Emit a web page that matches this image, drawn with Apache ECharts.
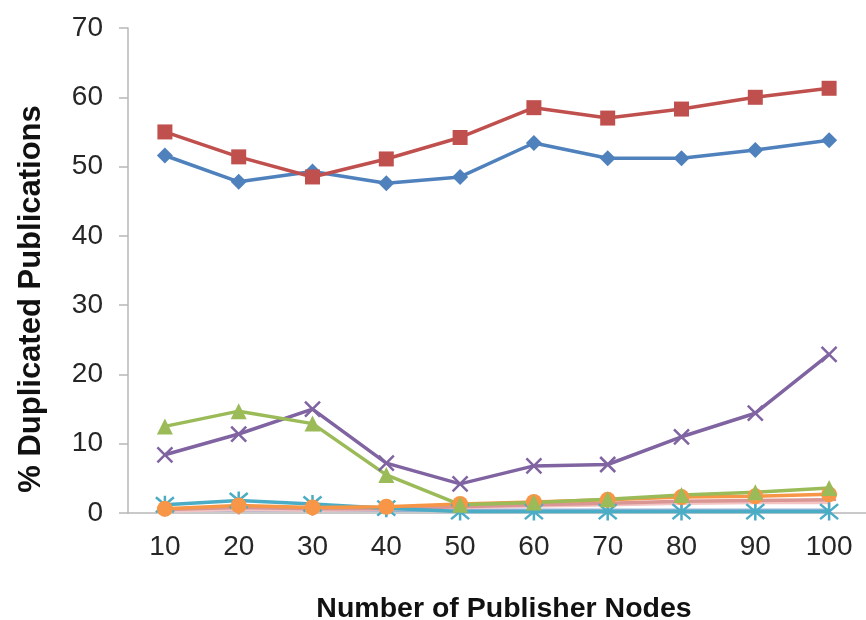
<!DOCTYPE html>
<html>
<head>
<meta charset="utf-8">
<script src="https://cdn.jsdelivr.net/npm/echarts@6/dist/echarts.min.js"></script>
<style>html,body{margin:0;padding:0;background:#fff}#c{width:866px;height:620px}</style>
</head>
<body>
<div id="c"></div>
<script>
var categories = ['10','20','30','40','50','60','70','80','90','100'];
var yTicks = [0,10,20,30,40,50,60,70];
var seriesBlue   = [51.6, 47.8, 49.3, 47.6, 48.5, 53.4, 51.2, 51.2, 52.4, 53.8];
var seriesRed    = [55.0, 51.4, 48.5, 51.1, 54.2, 58.5, 57.0, 58.3, 60.0, 61.3];
var seriesGreen  = [12.5, 14.7, 12.9, 5.5, 1.2, 1.5, 2.0, 2.6, 3.0, 3.6];
var seriesPurple = [8.4, 11.4, 15.0, 7.2, 4.2, 6.8, 7.0, 11.0, 14.4, 22.9];
var seriesTeal   = [1.2, 1.8, 1.3, 0.7, 0.2, 0.2, 0.2, 0.2, 0.2, 0.2];
var seriesOrange = [0.6, 1.1, 0.8, 0.9, 1.3, 1.6, 1.9, 2.3, 2.4, 2.7];
var seriesPink   = [0.5, 0.8, 0.6, 0.6, 0.9, 1.2, 1.4, 1.7, 1.8, 1.9];
var seriesLtPink = [0.3, 0.5, 0.4, 0.5, 0.8, 1.0, 1.2, 1.4, 1.5, 1.5];
var seriesLtBlue = [0.4, 0.4, 0.4, 0.4, 0.4, 0.4, 0.4, 0.4, 0.4, 0.4];

var X_PATH = 'path://M0,0L10,10M10,0L0,10';
var STAR_PATH = 'path://M0,0L10,10M10,0L0,10M5,-1L5,11';
var PLUS_PATH = 'path://M5,0L5,10M0,5L10,5';

function mk(data, color, symbol, size, strokeSym, lw) {
  var s = {
    type: 'line', data: data, symbol: symbol, symbolSize: size,
    showAllSymbol: true, animation: false,
    lineStyle: { color: color, width: lw || 3.5 },
    itemStyle: { color: color }
  };
  if (strokeSym) {
    s.itemStyle = { color: 'rgba(0,0,0,0)', borderColor: color, borderWidth: 2.5 };
  }
  return s;
}

var FONT = 'Liberation Sans, Arial, sans-serif';
var chart = echarts.init(document.getElementById('c'));
chart.setOption({
  backgroundColor: '#fff',
  animation: false,
  grid: { left: 128, right: 0, top: 28, bottom: 107, containLabel: false, outerBoundsMode: 'none' },
  xAxis: {
    type: 'category', data: categories, boundaryGap: true,
    axisLine: { lineStyle: { color: '#b8b8b8', width: 1.5 } },
    axisTick: { show: false },
    axisLabel: { color: '#262626', fontSize: 28, fontFamily: FONT, margin: 20, interval: 0 },
    name: 'Number of Publisher Nodes', nameLocation: 'middle', nameGap: 82,
    nameTextStyle: { color: '#111', fontSize: 28.5, fontWeight: 'bold', fontFamily: FONT, padding: [0, 0, 0, 14] }
  },
  yAxis: {
    type: 'value', min: yTicks[0], max: yTicks[yTicks.length - 1], interval: 10,
    axisLine: { show: true, lineStyle: { color: '#b8b8b8', width: 1.5 } },
    axisTick: { show: true, length: 9, lineStyle: { color: '#b8b8b8', width: 1.5 } },
    splitLine: { show: false },
    axisLabel: { color: '#262626', fontSize: 28, fontFamily: FONT, margin: 25 }
  },
  graphic: [{
    type: 'text', x: 31, y: 299, rotation: Math.PI / 2,
    style: { text: '% Duplicated Publications', fill: '#111', font: 'bold 31px "Liberation Sans", Arial, sans-serif', align: 'center', verticalAlign: 'middle' }
  }],
  series: [
    mk(seriesLtBlue, '#95B3D7', 'none', 0, false, 3.5),
    mk(seriesLtPink, '#F2C4C3', 'none', 0, false, 3.5),
    mk(seriesPink, '#D99694', PLUS_PATH, 14, true),
    mk(seriesTeal, '#4BACC6', STAR_PATH, 18, true),
    mk(seriesOrange, '#F79646', 'circle', 16),
    mk(seriesPurple, '#8064A2', X_PATH, 15, true),
    mk(seriesGreen, '#9BBB59', 'triangle', 16),
    mk(seriesBlue, '#4F81BD', 'diamond', 16),
    mk(seriesRed, '#C0504D', 'rect', 15)
  ]
});
</script>
</body>
</html>
